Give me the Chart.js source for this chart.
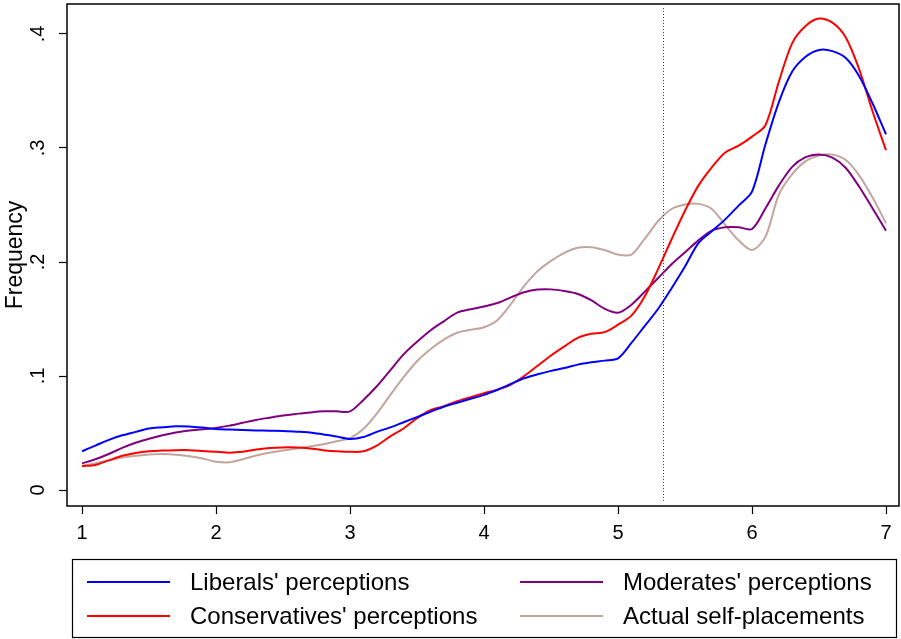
<!DOCTYPE html>
<html>
<head>
<meta charset="utf-8">
<script src="https://cdn.jsdelivr.net/npm/chart.js@4.4.1/dist/chart.umd.min.js"></script>
<style>
  body { margin: 0; background: #fff; }
  canvas { display: block; }
</style>
</head>
<body>
<canvas id="myChart" width="901" height="639"></canvas>
<script>
// ideology scale positions (1 = very liberal ... 7 = very conservative)
const xPoints = [1.0, 1.1, 1.2, 1.3, 1.4, 1.5, 1.6, 1.7, 1.8, 1.9,
                 2.0, 2.1, 2.2, 2.3, 2.4, 2.5, 2.6, 2.7, 2.8, 2.9,
                 3.0, 3.1, 3.2, 3.3, 3.4, 3.5, 3.6, 3.7, 3.8, 3.9,
                 4.0, 4.1, 4.2, 4.3, 4.4, 4.5, 4.6, 4.7, 4.8, 4.9,
                 5.0, 5.1, 5.2, 5.3, 5.4, 5.5, 5.6, 5.7, 5.8, 5.9,
                 6.0, 6.1, 6.2, 6.3, 6.4, 6.5, 6.6, 6.7, 6.8, 6.9, 7.0];

const liberals = [0.034, 0.039, 0.044, 0.048, 0.051, 0.054, 0.055, 0.056, 0.0558, 0.0548,
                  0.0535, 0.053, 0.0526, 0.0523, 0.052, 0.0518, 0.0512, 0.0505, 0.0488, 0.047,
                  0.0448, 0.0465, 0.051, 0.055, 0.0595, 0.064, 0.0687, 0.073, 0.0766, 0.080,
                  0.0835, 0.088, 0.093, 0.098, 0.1015, 0.1045, 0.107, 0.110, 0.112, 0.1135,
                  0.1155, 0.129, 0.144, 0.159, 0.177, 0.196, 0.2165, 0.227, 0.2374, 0.2495,
                  0.2617, 0.303, 0.340, 0.367, 0.380, 0.386, 0.385, 0.379, 0.363, 0.339, 0.312];

const conservatives = [0.021, 0.022, 0.026, 0.030, 0.0325, 0.034, 0.0347, 0.035, 0.035, 0.0343,
                       0.0335, 0.0328, 0.0335, 0.0355, 0.0368, 0.0374, 0.0373, 0.0365, 0.035, 0.034,
                       0.0335, 0.034, 0.039, 0.047, 0.054, 0.063, 0.070, 0.0735, 0.078, 0.0815,
                       0.085, 0.088, 0.0925, 0.100, 0.109, 0.118, 0.126, 0.1335, 0.137, 0.1385,
                       0.145, 0.153, 0.170, 0.194, 0.220, 0.245, 0.267, 0.283, 0.296, 0.302,
                       0.310, 0.320, 0.358, 0.392, 0.407, 0.4135, 0.410, 0.397, 0.369, 0.332, 0.298];

const moderates = [0.0234, 0.027, 0.0316, 0.037, 0.0415, 0.045, 0.048, 0.0505, 0.0522, 0.0533,
                   0.0545, 0.0565, 0.059, 0.0615, 0.0635, 0.0654, 0.0668, 0.068, 0.069, 0.069,
                   0.069, 0.079, 0.091, 0.105, 0.119, 0.130, 0.140, 0.148, 0.1556, 0.1585,
                   0.161, 0.164, 0.169, 0.1735, 0.1758, 0.176, 0.1745, 0.172, 0.1665, 0.159,
                   0.1555, 0.1625, 0.174, 0.186, 0.198, 0.2085, 0.219, 0.2275, 0.2305, 0.2305,
                   0.229, 0.247, 0.267, 0.2835, 0.292, 0.2943, 0.2915, 0.2825, 0.266, 0.247, 0.2275];

const selfPlacement = [0.021, 0.0235, 0.026, 0.0285, 0.030, 0.0312, 0.0315, 0.031, 0.0296, 0.0276,
                       0.0249, 0.0243, 0.027, 0.0303, 0.0327, 0.0347, 0.0365, 0.0382, 0.0402, 0.0428,
                       0.0455, 0.0535, 0.067, 0.0833, 0.099, 0.113, 0.1235, 0.132, 0.138, 0.1405,
                       0.1428, 0.149, 0.163, 0.179, 0.192, 0.201, 0.208, 0.2125, 0.213, 0.2105,
                       0.2065, 0.2065, 0.2205, 0.236, 0.2465, 0.2505, 0.251, 0.2465, 0.2325, 0.219,
                       0.2105, 0.222, 0.259, 0.277, 0.2885, 0.2935, 0.2942, 0.2895, 0.276, 0.2565, 0.234];

const xTicks = [1, 2, 3, 4, 5, 6, 7];
const yTicks = [0, 0.1, 0.2, 0.3, 0.4];
const cutoff = 5.336;   // dotted reference line

const FONT = 'Liberation Sans, Arial, Helvetica, sans-serif';

function series(label, ys, color) {
    return {
        label: label,
        data: xPoints.map((x, i) => ({ x: x, y: ys[i] })),
        borderColor: color,
        borderWidth: 2,
        pointRadius: 0,
        tension: 0.3,
        fill: false
    };
}

function fmtTick(v) {
    return v === 0 ? '0' : String(Math.round(v * 10) / 10).replace(/^0/, '');
}

// frame, rotated y labels, dotted cutoff line and the boxed legend
const decorations = {
    id: 'decorations',
    afterDraw(chart) {
        const ctx = chart.ctx;
        const area = chart.chartArea;
        const xs = chart.scales.x;
        const ys = chart.scales.y;
        ctx.save();

        // dotted line
        const cx = Math.round(xs.getPixelForValue(cutoff)) + 0.5;
        ctx.strokeStyle = '#444';
        ctx.lineWidth = 1;
        ctx.setLineDash([1, 2]);
        ctx.beginPath();
        ctx.moveTo(cx, area.top + 4);
        ctx.lineTo(cx, area.bottom - 5);
        ctx.stroke();
        ctx.setLineDash([]);

        // plot frame
        ctx.strokeStyle = '#000';
        ctx.lineWidth = 1.5;
        ctx.strokeRect(area.left, area.top, area.right - area.left, area.bottom - area.top);

        // y tick labels, rotated
        ctx.fillStyle = '#000';
        ctx.font = '20px ' + FONT;
        ctx.textAlign = 'center';
        ctx.textBaseline = 'middle';
        yTicks.forEach(v => {
            const py = ys.getPixelForValue(v);
            ctx.save();
            ctx.translate(38, py);
            ctx.rotate(-Math.PI / 2);
            ctx.fillText(fmtTick(v), 0, 0);
            ctx.restore();
        });

        // legend box: left column liberals / conservatives, right column moderates / self
        const box = { left: 72, top: 559, right: 896, bottom: 637 };
        ctx.lineWidth = 1.2;
        ctx.strokeRect(box.left + 0.5, box.top + 0.5, box.right - box.left, box.bottom - box.top);
        const slots = [
            { x: 87, y: 582 }, { x: 87, y: 616 },
            { x: 520, y: 582 }, { x: 520, y: 616 }
        ];
        ctx.font = '24px ' + FONT;
        ctx.textAlign = 'left';
        ctx.textBaseline = 'middle';
        chart.data.datasets.forEach((ds, i) => {
            const s = slots[i];
            ctx.strokeStyle = ds.borderColor;
            ctx.lineWidth = 2;
            ctx.beginPath();
            ctx.moveTo(s.x, s.y);
            ctx.lineTo(s.x + 83, s.y);
            ctx.stroke();
            ctx.fillStyle = '#000';
            ctx.fillText(ds.label, s.x + 103, s.y + 1);
        });
        ctx.restore();
    }
};

const ctx1 = document.getElementById('myChart');

new Chart(ctx1, {
    type: 'line',
    data: {
        datasets: [
            series("Liberals' perceptions", liberals, '#0000ff'),
            series("Conservatives' perceptions", conservatives, '#ff0000'),
            series("Moderates' perceptions", moderates, '#800080'),
            series('Actual self-placements', selfPlacement, '#c2a69e')
        ]
    },
    options: {
        responsive: false,
        animation: false,
        layout: {
            padding: { top: 4, right: 2, left: 0, bottom: 0 }
        },
        plugins: {
            legend: { display: false },
            tooltip: { enabled: false }
        },
        scales: {
            x: {
                type: 'linear',
                min: 0.888,
                max: 7.097,
                afterBuildTicks: s => { s.ticks = xTicks.map(v => ({ value: v })); },
                afterFit: s => { s.height = 133; },
                border: { display: false },
                grid: {
                    drawOnChartArea: false,
                    tickLength: 8,
                    tickWidth: 1.2,
                    tickColor: '#000'
                },
                ticks: {
                    color: '#000',
                    font: { family: FONT, size: 20 },
                    padding: 7,
                    maxRotation: 0,
                    callback: v => String(v)
                }
            },
            y: {
                type: 'linear',
                min: -0.0140,
                max: 0.4263,
                afterBuildTicks: s => { s.ticks = yTicks.map(v => ({ value: v })); },
                afterFit: s => { s.width = 67; },
                border: { display: false },
                grid: {
                    drawOnChartArea: false,
                    tickLength: 8,
                    tickWidth: 1.2,
                    tickColor: '#000'
                },
                ticks: { display: false },
                title: {
                    display: true,
                    text: 'Frequency',
                    color: '#000',
                    font: { family: FONT, size: 23 },
                    padding: { top: 2, bottom: 0 }
                }
            }
        }
    },
    plugins: [decorations]
});
</script>
</body>
</html>
